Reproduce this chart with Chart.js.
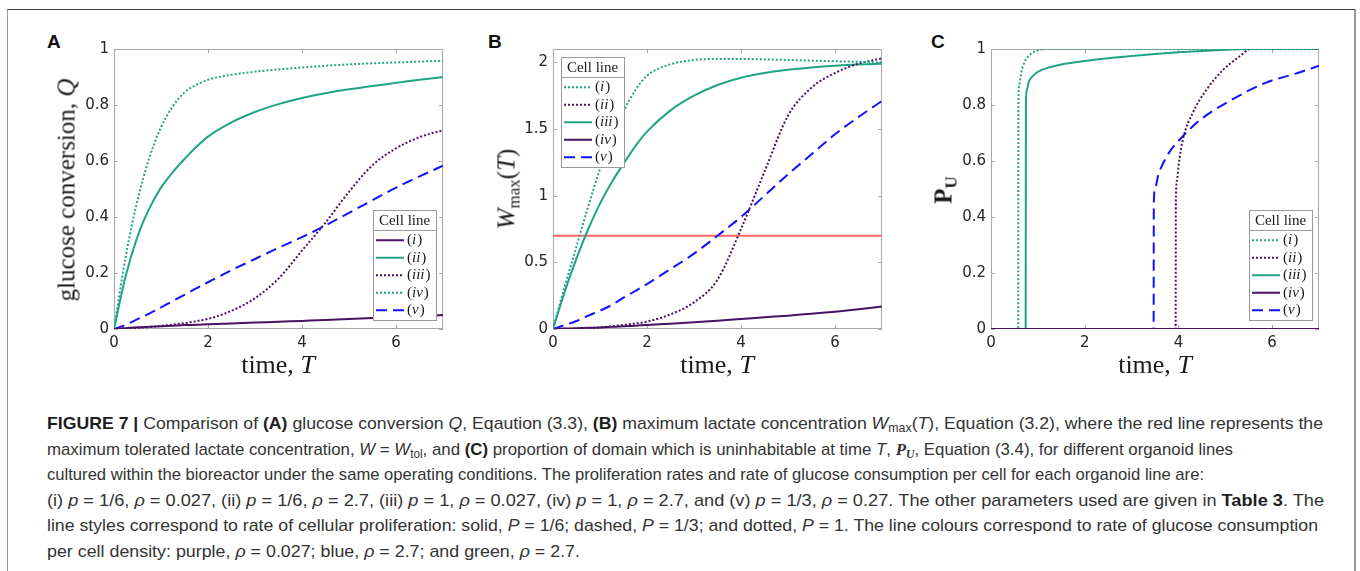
<!DOCTYPE html>
<html>
<head>
<meta charset="utf-8">
<script src="https://cdn.jsdelivr.net/npm/chart.js@4.4.1/dist/chart.umd.min.js"></script>
<style>
  html, body { margin: 0; padding: 0; background: #fff; }
  #page { position: relative; width: 1360px; height: 571px; overflow: hidden; }
  #frame { position: absolute; left: 7px; top: 9px; width: 1346px; height: 600px;
           border-top: 1px solid #3a3a3a; border-left: 1px solid #9a9a9a; border-right: 2px solid #9a9a9a; }
  canvas { position: absolute; }
  .plabel { position: absolute; font: bold 19px "Liberation Sans", Arial, sans-serif; line-height: 19px; color: #111; }
  .ytitle { position: absolute; transform: translate(-50%, -50%) rotate(-90deg); white-space: nowrap;
            font: 25px "Liberation Serif", serif; line-height: 1; color: #1a1a1a; }
  .xtitle { position: absolute; transform: translate(-50%, -50%); white-space: nowrap;
            font: 26px "Liberation Serif", serif; line-height: 1; color: #1a1a1a; }
  .ytitle sub, .xtitle sub { font-size: 0.68em; vertical-align: -0.3em; line-height: 0; }
  #caption { position: absolute; left: 47px; top: 411px;
             font: 17px "Liberation Sans Narrow", "Liberation Sans", Arial, sans-serif;
             line-height: 25.6px; color: #333; white-space: nowrap; }
  #caption > div { transform-origin: 0 0; width: max-content; }
  #caption b { color: #1e1e1e; }
  #caption sub { font-size: 0.7em; vertical-align: -0.25em; line-height: 0; }
  #caption .m { font-family: "Liberation Serif", serif; font-weight: bold; font-style: italic; }
</style>
</head>
<body>
<div id="page">
  <div id="frame"></div>

  <div class="plabel" style="left:47px;top:32px">A</div>
  <div class="plabel" style="left:488px;top:32px">B</div>
  <div class="plabel" style="left:931px;top:32px">C</div>

  <canvas id="chartA" width="430" height="370" style="left:20px;top:20px"></canvas>
  <canvas id="chartB" width="430" height="370" style="left:460px;top:20px"></canvas>
  <canvas id="chartC" width="427" height="370" style="left:900px;top:20px"></canvas>

  <div class="ytitle" style="left:66px;top:190px">glucose conversion, <i>Q</i></div>
  <div class="xtitle" style="left:278px;top:365px">time, <i>T</i></div>
  <div class="ytitle" style="left:506px;top:189px"><i>W</i><sub>max</sub>(<i>T</i>)</div>
  <div class="xtitle" style="left:717px;top:365px">time, <i>T</i></div>
  <div class="ytitle" style="left:943px;top:190px"><b>P</b><sub><b>U</b></sub></div>
  <div class="xtitle" style="left:1155px;top:365px">time, <i>T</i></div>

  <div id="caption">
    <div data-w="1276"><b>FIGURE 7 |</b> Comparison of <b>(A)</b> glucose conversion <i>Q</i>, Eqaution (3.3), <b>(B)</b> maximum lactate concentration <i>W</i><sub>max</sub>(<i>T</i>), Equation (3.2), where the red line represents the</div>
    <div data-w="1186">maximum tolerated lactate concentration, <i>W</i> = <i>W</i><sub>tol</sub>, and <b>(C)</b> proportion of domain which is uninhabitable at time <i>T</i>, <span class="m">P<sub>U</sub></span>, Equation (3.4), for different organoid lines</div>
    <div data-w="1157">cultured within the bioreactor under the same operating conditions. The proliferation rates and rate of glucose consumption per cell for each organoid line are:</div>
    <div data-w="1277">(i) <i>p</i> = 1/6, <i>ρ</i> = 0.027, (ii) <i>p</i> = 1/6, <i>ρ</i> = 2.7, (iii) <i>p</i> = 1, <i>ρ</i> = 0.027, (iv) <i>p</i> = 1, <i>ρ</i> = 2.7, and (v) <i>p</i> = 1/3, <i>ρ</i> = 0.27. The other parameters used are given in <b>Table 3</b>. The</div>
    <div data-w="1271">line styles correspond to rate of cellular proliferation: solid, <i>P</i> = 1/6; dashed, <i>P</i> = 1/3; and dotted, <i>P</i> = 1. The line colours correspond to rate of glucose consumption</div>
    <div data-w="533">per cell density: purple, <i>ρ</i> = 0.027; blue, <i>ρ</i> = 2.7; and green, <i>ρ</i> = 2.7.</div>
  </div>
</div>

<script>
// time grid used in panels A and B
const T = [0, 0.25, 0.5, 0.75, 1, 1.25, 1.5, 1.75, 2, 2.5, 3, 3.5, 4, 4.5, 5, 5.5, 6, 6.5, 7];

// panel A, glucose conversion Q
const qI   = [0, 0.003, 0.006, 0.008, 0.01, 0.012, 0.014, 0.015, 0.017, 0.02, 0.023, 0.026, 0.029, 0.032, 0.036, 0.039, 0.043, 0.046, 0.05];
const qII  = [0, 0.19, 0.33, 0.43, 0.505, 0.56, 0.607, 0.65, 0.687, 0.738, 0.775, 0.803, 0.825, 0.842, 0.856, 0.868, 0.879, 0.89, 0.9];
const qIII = [0, 0.002, 0.004, 0.007, 0.011, 0.016, 0.021, 0.028, 0.036, 0.065, 0.11, 0.18, 0.28, 0.38, 0.49, 0.585, 0.645, 0.685, 0.71];
const qIV  = [0, 0.26, 0.46, 0.61, 0.72, 0.795, 0.845, 0.872, 0.89, 0.908, 0.919, 0.927, 0.934, 0.94, 0.945, 0.949, 0.952, 0.955, 0.958];
const qV   = [0, 0.015, 0.035, 0.055, 0.077, 0.1, 0.122, 0.145, 0.167, 0.21, 0.25, 0.29, 0.328, 0.37, 0.415, 0.46, 0.505, 0.545, 0.583];

// panel B, max lactate W_max(T)
const wI   = [0, 0.32, 0.62, 0.92, 1.2, 1.43, 1.63, 1.79, 1.9, 1.985, 2.018, 2.025, 2.025, 2.022, 2.018, 2.013, 2.008, 2.004, 2.0];
const wII  = [0, 0.001, 0.003, 0.006, 0.012, 0.02, 0.03, 0.042, 0.055, 0.11, 0.2, 0.37, 0.75, 1.18, 1.6, 1.81, 1.92, 1.99, 2.03];
const wIII = [0, 0.28, 0.53, 0.75, 0.94, 1.1, 1.24, 1.37, 1.48, 1.64, 1.75, 1.83, 1.885, 1.92, 1.945, 1.962, 1.975, 1.984, 1.99];
const wIV  = [0, 0.003, 0.006, 0.009, 0.012, 0.016, 0.02, 0.025, 0.03, 0.04, 0.05, 0.062, 0.075, 0.088, 0.1, 0.115, 0.13, 0.148, 0.168];
const wV   = [0, 0.03, 0.06, 0.1, 0.137, 0.18, 0.235, 0.285, 0.337, 0.45, 0.565, 0.7, 0.84, 1.0, 1.16, 1.31, 1.46, 1.59, 1.71];
const tolT = [0, 7];
const wTol = [0.7, 0.7];

// panel C, uninhabitable proportion P_U (each line has its own times)
const pIT   = [0, 0.58, 0.585, 0.6, 0.65, 0.72, 0.8, 0.9, 1.0, 1.15, 7];
const pI    = [0, 0, 0.8, 0.87, 0.92, 0.955, 0.975, 0.988, 0.995, 1, 1];
const pIIT  = [0, 3.94, 3.945, 3.97, 4.0, 4.1, 4.3, 4.6, 4.95, 5.3, 5.55, 7];
const pII   = [0, 0, 0.45, 0.53, 0.58, 0.68, 0.77, 0.855, 0.925, 0.973, 1, 1];
const pIIIT = [0, 0.74, 0.745, 0.76, 0.8, 0.9, 1.0, 1.25, 1.5, 2, 2.5, 3, 3.5, 4, 4.5, 5, 5.5, 7];
const pIII  = [0, 0, 0.8, 0.85, 0.88, 0.905, 0.918, 0.935, 0.945, 0.957, 0.967, 0.975, 0.982, 0.988, 0.993, 0.997, 1, 1];
const pIVT  = [0, 7];
const pIV   = [0, 0];
const pVT   = [0, 3.47, 3.475, 3.5, 3.57, 3.67, 3.8, 4.02, 4.45, 5.15, 5.87, 6.5, 7];
const pV    = [0, 0, 0.45, 0.5, 0.55, 0.59, 0.63, 0.675, 0.745, 0.82, 0.88, 0.912, 0.94];

// ticks
const xTicks  = [0, 2, 4, 6];
const yTicksA = [0, 0.2, 0.4, 0.6, 0.8, 1];
const yTicksB = [0, 0.5, 1, 1.5, 2];
const yTicksC = [0, 0.2, 0.4, 0.6, 0.8, 1];

const GREEN = "#21a385";
const PURPLE = "#4a1262";
const BLUE = "#1111ff";
const RED = "#ff6464";
const DOT = [2, 2];
const DASH = [11, 6];

function pts(xs, ys) {
  return xs.map((x, i) => ({ x: x, y: ys[i] }));
}

function line(label, xs, ys, color, dash) {
  return {
    label: label,
    data: pts(xs, ys),
    borderColor: color,
    borderDash: dash || [],
    borderWidth: 2,
    borderCapStyle: "butt",
    pointRadius: 0,
    fill: false,
    cubicInterpolationMode: "monotone"
  };
}

// matlab style box with inward ticks on all four sides
const boxAxes = {
  id: "boxAxes",
  beforeDatasetsDraw(chart) {
    const ctx = chart.ctx, a = chart.chartArea;
    const x = chart.scales.x, y = chart.scales.y;
    ctx.save();
    ctx.strokeStyle = "#a8a8a8";
    ctx.lineWidth = 1;
    ctx.strokeRect(a.left + 0.5, a.top + 0.5, a.right - a.left - 1, a.bottom - a.top - 1);
    ctx.beginPath();
    x.ticks.forEach((t) => {
      const px = Math.round(x.getPixelForValue(t.value)) + 0.5;
      ctx.moveTo(px, a.bottom); ctx.lineTo(px, a.bottom - 4);
      ctx.moveTo(px, a.top); ctx.lineTo(px, a.top + 4);
    });
    y.ticks.forEach((t) => {
      const py = Math.round(y.getPixelForValue(t.value)) + 0.5;
      ctx.moveTo(a.left, py); ctx.lineTo(a.left + 4, py);
      ctx.moveTo(a.right, py); ctx.lineTo(a.right - 4, py);
    });
    ctx.stroke();
    ctx.restore();
  }
};

// "Cell line" legend box drawn inside the axes
const cellLegend = {
  id: "cellLegend",
  afterDatasetsDraw(chart, args, opts) {
    if (!opts.order) return;
    const ctx = chart.ctx, a = chart.chartArea;
    const w = 63, titleH = 20, rowH = 17.5;
    const h = titleH + rowH * opts.order.length + 2.5;
    let x0, y0;
    if (opts.corner === "tl") {
      x0 = a.left + 8; y0 = a.top + 8;
    } else {
      x0 = a.right - 7 - w; y0 = a.bottom - 9 - h;
    }
    x0 = Math.round(x0); y0 = Math.round(y0);
    ctx.save();
    ctx.fillStyle = "#fff";
    ctx.fillRect(x0, y0, w, h);
    ctx.strokeStyle = "#9a9a9a";
    ctx.lineWidth = 1;
    ctx.strokeRect(x0 + 0.5, y0 + 0.5, w, h);
    ctx.beginPath();
    ctx.moveTo(x0, y0 + titleH + 0.5); ctx.lineTo(x0 + w, y0 + titleH + 0.5);
    ctx.stroke();

    ctx.fillStyle = "#1a1a1a";
    ctx.textBaseline = "middle";
    ctx.textAlign = "center";
    ctx.font = '15px "Liberation Serif", serif';
    ctx.fillText("Cell line", x0 + w / 2, y0 + titleH / 2 + 1);

    ctx.textAlign = "left";
    opts.order.forEach((lab, i) => {
      const ds = chart.data.datasets.find((d) => d.label === lab);
      const cy = y0 + titleH + 1.5 + rowH * (i + 0.5);
      ctx.save();
      ctx.strokeStyle = ds.borderColor;
      ctx.lineWidth = 2;
      ctx.setLineDash(ds.borderDash || []);
      ctx.beginPath();
      ctx.moveTo(x0 + 3, cy); ctx.lineTo(x0 + 31, cy);
      ctx.stroke();
      ctx.restore();
      let tx = x0 + 34;
      ctx.font = '15px "Liberation Serif", serif';
      ctx.fillText("(", tx, cy);
      tx += ctx.measureText("(").width;
      ctx.font = 'italic 15px "Liberation Serif", serif';
      ctx.fillText(lab, tx, cy);
      tx += ctx.measureText(lab).width + 1;
      ctx.font = '15px "Liberation Serif", serif';
      ctx.fillText(")", tx, cy);
    });
    ctx.restore();
  }
};

Chart.defaults.font.family = '"DejaVu Sans", sans-serif';
Chart.defaults.font.size = 15;
Chart.defaults.color = "#262626";

function makeChart(id, datasets, yMax, yTicks, yWidth, rightPad, legendOpts) {
  return new Chart(document.getElementById(id), {
    type: "line",
    data: { datasets: datasets },
    options: {
      responsive: false,
      animation: false,
      events: [],
      layout: { padding: { top: 29, right: rightPad, left: 0, bottom: 0 } },
      plugins: {
        legend: { display: false },
        tooltip: { enabled: false },
        cellLegend: legendOpts
      },
      scales: {
        x: {
          type: "linear",
          min: 0,
          max: 7,
          grid: { display: false, drawTicks: false },
          border: { display: false },
          afterBuildTicks: (s) => { s.ticks = xTicks.map((v) => ({ value: v })); },
          afterFit: (s) => { s.height = 61; },
          ticks: { padding: 5, maxRotation: 0, callback: (v) => String(v) }
        },
        y: {
          type: "linear",
          min: 0,
          max: yMax,
          grid: { display: false, drawTicks: false },
          border: { display: false },
          afterBuildTicks: (s) => { s.ticks = yTicks.map((v) => ({ value: v })); },
          afterFit: (s) => { s.width = yWidth; },
          ticks: { padding: 5, callback: (v) => String(v) }
        }
      }
    },
    plugins: [boxAxes, cellLegend]
  });
}

makeChart("chartA", [
  line("i", T, qI, PURPLE),
  line("ii", T, qII, GREEN),
  line("iii", T, qIII, PURPLE, DOT),
  line("iv", T, qIV, GREEN, DOT),
  line("v", T, qV, BLUE, DASH)
], 1, yTicksA, 94, 7, { corner: "br", order: ["i", "ii", "iii", "iv", "v"] });

makeChart("chartB", [
  line("i", T, wI, GREEN, DOT),
  line("ii", T, wII, PURPLE, DOT),
  line("iii", T, wIII, GREEN),
  line("iv", T, wIV, PURPLE),
  line("v", T, wV, BLUE, DASH),
  line("tol", tolT, wTol, RED)
], 2.1, yTicksB, 93, 8, { corner: "tl", order: ["i", "ii", "iii", "iv", "v"] });

makeChart("chartC", [
  line("iv", pIVT, pIV, PURPLE),
  line("i", pIT, pI, GREEN, DOT),
  line("ii", pIIT, pII, PURPLE, DOT),
  line("iii", pIIIT, pIII, GREEN),
  line("v", pVT, pV, BLUE, DASH)
], 1, yTicksC, 91, 8, { corner: "br", order: ["i", "ii", "iii", "iv", "v"] });

// squeeze each caption line to the width it has in the printed figure
document.querySelectorAll("#caption > div").forEach((el) => {
  const w = el.getBoundingClientRect().width;
  el.style.transform = "scaleX(" + (Number(el.dataset.w) / w) + ")";
});
</script>
</body>
</html>
